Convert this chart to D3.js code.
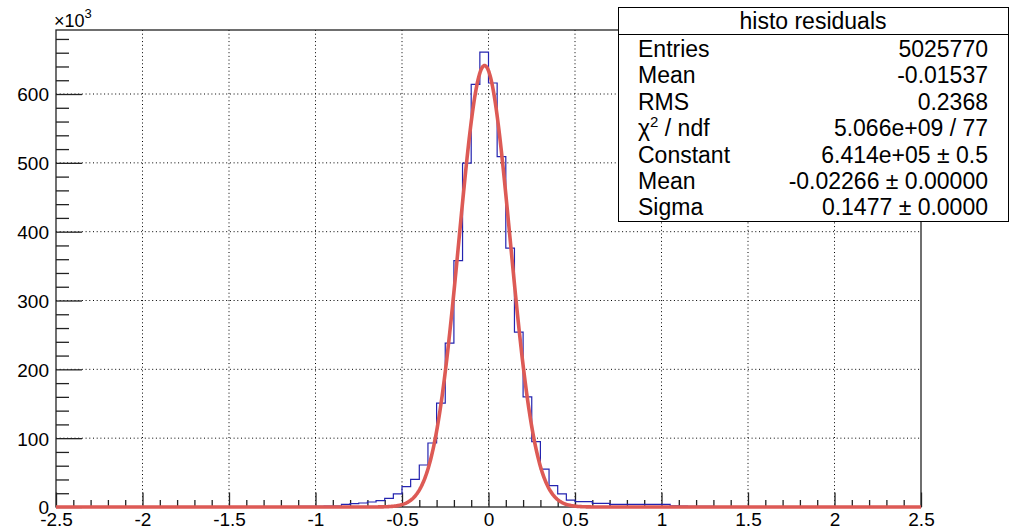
<!DOCTYPE html>
<html>
<head>
<meta charset="utf-8">
<script src="https://cdn.jsdelivr.net/npm/d3@7"></script>
<style>
  body { margin: 0; background: #fff; }
  svg { display: block; font-family: "Liberation Sans", Arial, Helvetica, sans-serif; }
</style>
</head>
<body>
<script>
// bin contents (x10^3), 100 bins of width 0.05 starting at -2.5
const counts = [
  0, 0, 0, 0, 0, 0, 0, 0, 0, 0,
  0, 0, 0.1, 0.1, 0.1, 0.1, 0.2, 0.2, 0.2, 0.3,
  0.3, 0.3, 0.4, 0.4, 0.5, 0.5, 0.6, 0.7, 0.8, 0.9,
  1.0, 1.2, 1.4, 3.9, 4.9, 5.8, 7.3, 9.2, 12.6, 19,
  29.5, 40, 61, 93, 151, 238, 358, 499.6, 614, 661,
  616, 509, 376, 254, 160, 95, 55, 31, 19, 10,
  7.7, 7.7, 5.3, 5.3, 3.9, 3.9, 3.9, 3.9, 3.9, 3.9,
  3.9, 1.6, 1.3, 1.1, 0.9, 0.8, 0.7, 0.6, 0.5, 0.4,
  0.3, 0.3, 0.2, 0.2, 0.1, 0.1, 0, 0, 0, 0,
  0, 0, 0, 0, 0, 0, 0, 0, 0, 0
];
const binStart = -2.5, binWidth = 0.05;

const xTicks = [-2.5, -2, -1.5, -1, -0.5, 0, 0.5, 1, 1.5, 2, 2.5];
const yTicks = [0, 100, 200, 300, 400, 500, 600];

// gaus fit parameters from the stats box (constant in x10^3)
const fitConstant = 641.4, fitMean = -0.02266, fitSigma = 0.1477;

const statTitle = "histo residuals";
const statLabels = ["Entries", "Mean", "RMS", "chi2", "Constant", "Mean", "Sigma"];
const statValues = ["5025770", "-0.01537", "0.2368", "5.066e+09 / 77",
                    "6.414e+05 \u00b1 0.5", "-0.02266 \u00b1 0.00000", "0.1477 \u00b1 0.0000"];

const margin = {top: 30, right: 93, bottom: 21, left: 56};
const width = 1014 - margin.left - margin.right;
const height = 528 - margin.top - margin.bottom;

const root = d3.select("body").append("svg")
   .attr("width", 1014)
   .attr("height", 528);

// title, mostly out of the canvas
root.append("text")
   .attr("x", 498).attr("y", 0)
   .attr("text-anchor", "middle")
   .attr("font-size", 21)
   .attr("fill", "#999")
   .text("histo residuals");

const svg = root.append("g")
   .attr("transform", "translate(" + margin.left + "," + margin.top + ")");

const x = d3.scaleLinear().domain([-2.5, 2.5]).range([0, width]);
const y = d3.scaleLinear().domain([0, 693]).range([height, 0]);

// grid
svg.append("g").selectAll("line")
   .data(xTicks.slice(1, -1))
   .join("line")
   .attr("x1", d => x(d)).attr("x2", d => x(d))
   .attr("y1", 0).attr("y2", height)
   .attr("stroke", "#000").attr("stroke-width", 1)
   .attr("stroke-dasharray", "1,2.7");
svg.append("g").selectAll("line")
   .data(yTicks.slice(1))
   .join("line")
   .attr("x1", 0).attr("x2", width)
   .attr("y1", d => y(d)).attr("y2", d => y(d))
   .attr("stroke", "#000").attr("stroke-width", 1)
   .attr("stroke-dasharray", "1,2.7");

// axes (ticks inside the frame, ROOT style)
const xMinor = d3.range(-25, 26).map(i => i / 10).filter(v => Math.abs(v * 2 - Math.round(v * 2)) > 1e-6);
const yMinor = d3.range(0, 700, 20).filter(v => v % 100 !== 0);

const xAx = svg.append("g")
   .attr("transform", "translate(0," + height + ")")
   .call(d3.axisBottom(x).tickValues(xTicks).tickSize(-14.5).tickPadding(0).tickFormat(d3.format("")));
svg.append("g")
   .attr("transform", "translate(0," + height + ")")
   .call(d3.axisBottom(x).tickValues(xMinor).tickSize(-7).tickFormat(""));
const yAx = svg.append("g")
   .call(d3.axisLeft(y).tickValues(yTicks).tickSize(-26).tickPadding(7).tickFormat(d3.format("")));
svg.append("g")
   .call(d3.axisLeft(y).tickValues(yMinor).tickSize(-13).tickFormat(""));

svg.selectAll(".domain").remove();
svg.selectAll(".tick line").attr("stroke", "#222").attr("stroke-width", 1.3);
xAx.selectAll("text").attr("font-size", 19).attr("fill", "#000")
   .attr("y", 0).attr("dy", "1.0em").text(d => d3.format("")(d).replace("\u2212", "-"));
yAx.selectAll("text").attr("font-size", 19).attr("fill", "#000").attr("dy", "0.36em");

// frame
svg.append("rect")
   .attr("width", width).attr("height", height)
   .attr("fill", "none").attr("stroke", "#222").attr("stroke-width", 1.3);

// histogram outline
const histPts = [];
counts.forEach((c, i) => {
  const lo = binStart + i * binWidth;
  histPts.push([lo, c], [lo + binWidth, c]);
});
svg.append("path")
   .datum(histPts)
   .attr("fill", "none")
   .attr("stroke", "#2424b0")
   .attr("stroke-width", 1.2)
   .attr("d", d3.line().x(d => x(d[0])).y(d => y(d[1])));

// gaussian fit
const fitX = d3.range(-2.5, 2.5001, 0.004);
svg.append("path")
   .datum(fitX)
   .attr("fill", "none")
   .attr("stroke", "#dd5a55")
   .attr("stroke-width", 3.6)
   .attr("stroke-linejoin", "round")
   .attr("d", d3.line()
      .x(d => x(d))
      .y(d => y(fitConstant * Math.exp(-0.5 * Math.pow((d - fitMean) / fitSigma, 2)))));

// x10^3 label
const mult = root.append("text")
   .attr("x", 54).attr("y", 27)
   .attr("font-size", 18);
mult.append("tspan").text("\u00d710");
mult.append("tspan").attr("font-size", 13).attr("dy", -9).text("3");

// stats box
const box = root.append("g");
box.append("rect")
   .attr("x", 618.5).attr("y", 7.5)
   .attr("width", 390).attr("height", 214)
   .attr("fill", "#fff").attr("stroke", "#000").attr("stroke-width", 1);
box.append("line")
   .attr("x1", 618.5).attr("x2", 1008.5)
   .attr("y1", 34.5).attr("y2", 34.5)
   .attr("stroke", "#000").attr("stroke-width", 1);
box.append("text")
   .attr("x", 813).attr("y", 29)
   .attr("text-anchor", "middle")
   .attr("font-size", 23)
   .text(statTitle);

statLabels.forEach((lab, i) => {
  const yy = 57 + i * 26.4;
  const t = box.append("text").attr("x", 638).attr("y", yy).attr("font-size", 23);
  if (lab === "chi2") {
    t.append("tspan").text("\u03c7");
    t.append("tspan").attr("font-size", 15).attr("dy", -9).text("2");
    t.append("tspan").attr("dy", 9).text(" / ndf");
  } else {
    t.text(lab);
  }
  box.append("text")
     .attr("x", 988).attr("y", yy)
     .attr("text-anchor", "end")
     .attr("font-size", 23)
     .text(statValues[i]);
});
</script>
</body>
</html>
